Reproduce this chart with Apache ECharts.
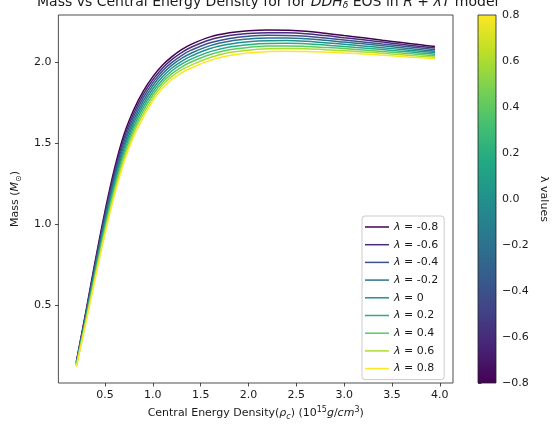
<!DOCTYPE html>
<html>
<head>
<meta charset="utf-8">
<script src="https://cdn.jsdelivr.net/npm/echarts@6/dist/echarts.min.js"></script>
<style>
  html, body { margin: 0; padding: 0; background: #fff; }
  #chart { width: 556px; height: 434px; }
</style>
</head>
<body>
<div id="chart"></div>
<script>
// central energy density (10^15 g/cm^3)
const rho = [0.2, 0.3, 0.4, 0.5, 0.6, 0.7, 0.8, 0.9, 1.0, 1.1, 1.2, 1.3, 1.4, 1.6, 1.8, 2.0, 2.2, 2.4, 2.6, 2.8, 3.0, 3.2, 3.4, 3.6, 3.8, 3.95];

const lambdas = [-0.8, -0.6, -0.4, -0.2, 0, 0.2, 0.4, 0.6, 0.8];

// masses
const massM08 = [0.150, 0.460, 0.780, 1.080, 1.345, 1.555, 1.705, 1.820, 1.910, 1.980, 2.033, 2.076, 2.109, 2.155, 2.180, 2.193, 2.198, 2.196, 2.190, 2.177, 2.163, 2.149, 2.134, 2.120, 2.106, 2.095];
const massM06 = [0.146, 0.451, 0.766, 1.063, 1.324, 1.534, 1.684, 1.800, 1.891, 1.962, 2.016, 2.058, 2.091, 2.137, 2.163, 2.176, 2.181, 2.180, 2.174, 2.163, 2.150, 2.137, 2.123, 2.109, 2.096, 2.086];
const massM04 = [0.143, 0.443, 0.753, 1.045, 1.304, 1.513, 1.664, 1.780, 1.873, 1.945, 1.998, 2.040, 2.073, 2.119, 2.145, 2.159, 2.165, 2.164, 2.159, 2.148, 2.136, 2.124, 2.111, 2.099, 2.086, 2.076];
const massM02 = [0.139, 0.434, 0.739, 1.028, 1.283, 1.491, 1.643, 1.760, 1.854, 1.927, 1.981, 2.022, 2.054, 2.101, 2.128, 2.142, 2.148, 2.148, 2.143, 2.134, 2.123, 2.112, 2.100, 2.088, 2.076, 2.067];
const massP00 = [0.135, 0.425, 0.725, 1.010, 1.263, 1.470, 1.623, 1.740, 1.835, 1.909, 1.963, 2.004, 2.036, 2.083, 2.110, 2.125, 2.131, 2.132, 2.128, 2.119, 2.110, 2.099, 2.088, 2.077, 2.066, 2.058];
const massP02 = [0.131, 0.416, 0.711, 0.993, 1.242, 1.449, 1.602, 1.720, 1.816, 1.891, 1.946, 1.987, 2.018, 2.064, 2.093, 2.107, 2.114, 2.115, 2.112, 2.105, 2.096, 2.087, 2.077, 2.066, 2.056, 2.048];
const massP04 = [0.128, 0.408, 0.698, 0.975, 1.221, 1.428, 1.581, 1.700, 1.798, 1.874, 1.928, 1.969, 2.000, 2.046, 2.075, 2.090, 2.098, 2.099, 2.096, 2.090, 2.083, 2.074, 2.065, 2.056, 2.046, 2.039];
const massP06 = [0.124, 0.399, 0.684, 0.958, 1.201, 1.406, 1.561, 1.680, 1.779, 1.856, 1.911, 1.951, 1.981, 2.028, 2.058, 2.073, 2.081, 2.083, 2.081, 2.076, 2.069, 2.062, 2.054, 2.045, 2.036, 2.029];
const massP08 = [0.120, 0.390, 0.670, 0.940, 1.180, 1.385, 1.540, 1.660, 1.760, 1.838, 1.893, 1.933, 1.963, 2.010, 2.040, 2.056, 2.064, 2.067, 2.065, 2.061, 2.056, 2.049, 2.042, 2.034, 2.026, 2.020];

const masses = [massM08, massM06, massM04, massM02, massP00, massP02, massP04, massP06, massP08];

const lineColors = ['#440154', '#472d7b', '#3b528b', '#2c728e', '#21918c', '#28ae80', '#5ec962', '#addc30', '#fde725'];

const xTicks = [0.5, 1.0, 1.5, 2.0, 2.5, 3.0, 3.5, 4.0];
const yTicks = [0.5, 1.0, 1.5, 2.0];

const viridisStops = [
  [0.0, '#440154'], [0.1, '#482475'], [0.2, '#414487'], [0.3, '#355f8d'],
  [0.4, '#2a788e'], [0.5, '#21918c'], [0.6, '#22a884'], [0.7, '#44bf70'],
  [0.8, '#7ad151'], [0.9, '#bddf26'], [1.0, '#fde725']
];

const fam = 'DejaVu Sans';
const ink = '#1a1a1a';
const names = lambdas.map(l => 'λ = ' + l);

const chart = echarts.init(document.getElementById('chart'));

const series = masses.map((m, i) => ({
  name: names[i],
  type: 'line',
  data: rho.map((r, j) => [r, m[j]]),
  smooth: 0.4,
  showSymbol: false,
  symbol: 'none',
  lineStyle: { width: 1.5, color: lineColors[i] },
  itemStyle: { color: lineColors[i] },
  xAxisIndex: 0,
  yAxisIndex: 0
}));

// colour bar
series.push({
  type: 'line',
  xAxisIndex: 1,
  yAxisIndex: 1,
  data: [[0, 0]],
  symbol: 'none',
  lineStyle: { opacity: 0 },
  silent: true,
  markArea: {
    silent: true,
    itemStyle: {
      color: new echarts.graphic.LinearGradient(0, 1, 0, 0,
        viridisStops.map(s => ({ offset: s[0], color: s[1] }))),
      borderColor: '#222',
      borderWidth: 0.8
    },
    data: [[{ yAxis: -0.8 }, { yAxis: 0.8 }]]
  }
});

const tickStyle = { show: true, inside: false, length: 3.5, lineStyle: { color: '#222', width: 0.8 } };
const labelStyle = { color: ink, fontFamily: fam, fontSize: 11 };

const option = {
  animation: false,
  backgroundColor: '#fff',
  title: {
    text: 'Mass vs Central Energy Density for for {i|DDH}{sub|δ} EOS in {i|R} + {i|λT} model',
    left: 37,
    top: -6,
    padding: 0,
    textStyle: {
      fontFamily: fam, fontSize: 14, fontWeight: 'normal', color: ink, lineHeight: 16,
      rich: {
        i: { fontFamily: fam, fontSize: 14, fontStyle: 'italic', color: ink, lineHeight: 16 },
        sub: { fontFamily: fam, fontSize: 9, fontStyle: 'italic', color: ink, verticalAlign: 'bottom', lineHeight: 16, padding: [5, 0, 0, 0] }
      }
    }
  },
  legend: {
    data: names,
    orient: 'vertical',
    left: 362,
    top: 216,
    icon: 'rect',
    itemWidth: 24,
    itemHeight: 1.5,
    itemGap: 3.7,
    padding: [4, 6, 4, 3],
    backgroundColor: 'rgba(255,255,255,0.8)',
    borderColor: '#cccccc',
    borderWidth: 1,
    borderRadius: 3,
    formatter: n => '{i|λ}' + n.slice(1),
    textStyle: {
      fontFamily: fam, fontSize: 11, color: ink, lineHeight: 14,
      rich: { i: { fontFamily: fam, fontSize: 11, fontStyle: 'italic', color: ink, lineHeight: 14 } }
    }
  },
  grid: [
    { left: 58, top: 15, width: 395, height: 368, show: true, borderColor: '#222', borderWidth: 0.8, backgroundColor: 'transparent' },
    { left: 478, top: 15, width: 18, height: 368 }
  ],
  xAxis: [
    {
      type: 'value', gridIndex: 0, min: 0.0125, max: 4.1375,
      axisLine: { show: false },
      splitLine: { show: false },
      axisTick: Object.assign({ customValues: xTicks }, tickStyle),
      axisLabel: Object.assign({ customValues: xTicks, margin: 7, formatter: v => v.toFixed(1) }, labelStyle),
      name: 'Central Energy Density({i|ρ}{sub|c}) (10{sup|15}{i|g}/{i|cm}{sup|3})',
      nameLocation: 'middle',
      nameGap: 22,
      nameTextStyle: {
        fontFamily: fam, fontSize: 11, color: ink, lineHeight: 15,
        rich: {
          i: { fontFamily: fam, fontSize: 11, fontStyle: 'italic', color: ink, lineHeight: 15 },
          sub: { fontFamily: fam, fontSize: 8, fontStyle: 'italic', color: ink, verticalAlign: 'bottom', lineHeight: 15, padding: [4, 0, 0, 0] },
          sup: { fontFamily: fam, fontSize: 8, color: ink, verticalAlign: 'top', lineHeight: 15, padding: [0, 0, 4, 0] }
        }
      }
    },
    { type: 'value', gridIndex: 1, min: 0, max: 1, show: false }
  ],
  yAxis: [
    {
      type: 'value', gridIndex: 0, min: 0.019, max: 2.29,
      axisLine: { show: false },
      splitLine: { show: false },
      axisTick: Object.assign({ customValues: yTicks }, tickStyle),
      axisLabel: Object.assign({ customValues: yTicks, margin: 7, formatter: v => v.toFixed(1) }, labelStyle),
      name: 'Mass ({i|M}{sub|⊙})',
      nameLocation: 'middle',
      nameRotate: 90,
      nameGap: 35,
      nameTextStyle: {
        fontFamily: fam, fontSize: 11, color: ink, lineHeight: 15,
        rich: {
          i: { fontFamily: fam, fontSize: 11, fontStyle: 'italic', color: ink, lineHeight: 15 },
          sub: { fontFamily: fam, fontSize: 8, color: ink, verticalAlign: 'bottom', lineHeight: 15, padding: [4, 0, 0, 0] }
        }
      }
    },
    {
      type: 'value', gridIndex: 1, position: 'right', min: -0.8, max: 0.8, interval: 0.2,
      axisLine: { show: false },
      splitLine: { show: false },
      axisTick: tickStyle,
      axisLabel: Object.assign({ margin: 6, formatter: v => (Math.abs(v) < 1e-9 ? '0.0' : v.toFixed(1).replace('-', '\u2212')) }, labelStyle),
      name: 'λ values',
      nameLocation: 'middle',
      nameRotate: -90,
      nameGap: 42,
      nameTextStyle: { fontFamily: fam, fontSize: 11, color: ink }
    }
  ],
  series: series
};

chart.setOption(option);
</script>
</body>
</html>
